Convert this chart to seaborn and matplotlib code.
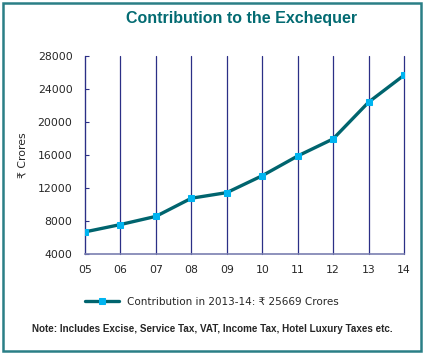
import pandas as pd
import seaborn as sns
import matplotlib.pyplot as plt
from matplotlib.patches import Rectangle

# data
years = ['05', '06', '07', '08', '09', '10', '11', '12', '13', '14']
contribution = [6680, 7570, 8560, 10760, 11440, 13490, 15880, 17950, 22400, 25669]
y_ticks = [4000, 8000, 12000, 16000, 20000, 24000, 28000]

df = pd.DataFrame({'year': years, 'value': contribution})

sns.set_style('white')
plt.rcParams['font.family'] = ['DejaVu Sans']

fig = plt.figure(figsize=(4.25, 3.54), dpi=100)
ax = fig.add_axes([85 / 425, 1 - 254 / 354, (404 - 85) / 425, (254 - 56) / 354])

navy = '#2b2f86'
teal = '#00646e'
sns.lineplot(data=df, x='year', y='value', ax=ax, color=teal, linewidth=2.4,
             marker='s', markersize=4, markerfacecolor='#00b4f0', markeredgecolor='#00b4f0',
             label='Contribution in 2013-14: ₹ 25669 Crores', sort=False, zorder=3)

ax.set_ylim(4000, 28000)
ax.set_xlim(0, len(years) - 1)
ax.set_yticks(y_ticks)
ax.set_yticklabels([str(t) for t in y_ticks], fontsize=7.8)
ax.tick_params(axis='x', labelsize=7.8, length=0, pad=8)
ax.tick_params(axis='y', length=3, width=0.8, color=navy, left=True, direction='in', pad=9)
ax.xaxis.grid(True, color=navy, linewidth=0.9)
for gl in ax.get_xgridlines():
    gl.set_clip_on(False)
ax.yaxis.grid(False)
ax.set_axisbelow(True)
for s in ['top', 'right']:
    ax.spines[s].set_visible(False)
ax.spines['left'].set_color(navy)
ax.spines['bottom'].set_color('#7a7fb0')
ax.spines['bottom'].set_linewidth(1.2)
ax.set_xlabel('')
ax.set_ylabel('₹ Crores', fontsize=7.8, labelpad=7)

ax.legend(loc='center', bbox_to_anchor=(212 / 425, 1 - 302 / 354), bbox_transform=fig.transFigure,
          frameon=False, fontsize=7.5, handlelength=3.2)

fig.text(242 / 425, 1 - 18 / 354, 'Contribution to the Exchequer', ha='center', va='center',
         fontsize=11.5, fontweight='bold', color='#036b72', family='Liberation Sans')
fig.text(212 / 425, 1 - 329 / 354, 'Note: Includes Excise, Service Tax, VAT, Income Tax, Hotel Luxury Taxes etc.',
         ha='center', va='center', fontsize=7.1, fontweight='bold', family='Liberation Sans')

fig.patches.append(Rectangle((3 / 425, 3 / 354), 418 / 425, 348 / 354, transform=fig.transFigure,
                             fill=False, edgecolor='#2a7f86', linewidth=1.8))

fig.savefig('out.png', dpi=100)
